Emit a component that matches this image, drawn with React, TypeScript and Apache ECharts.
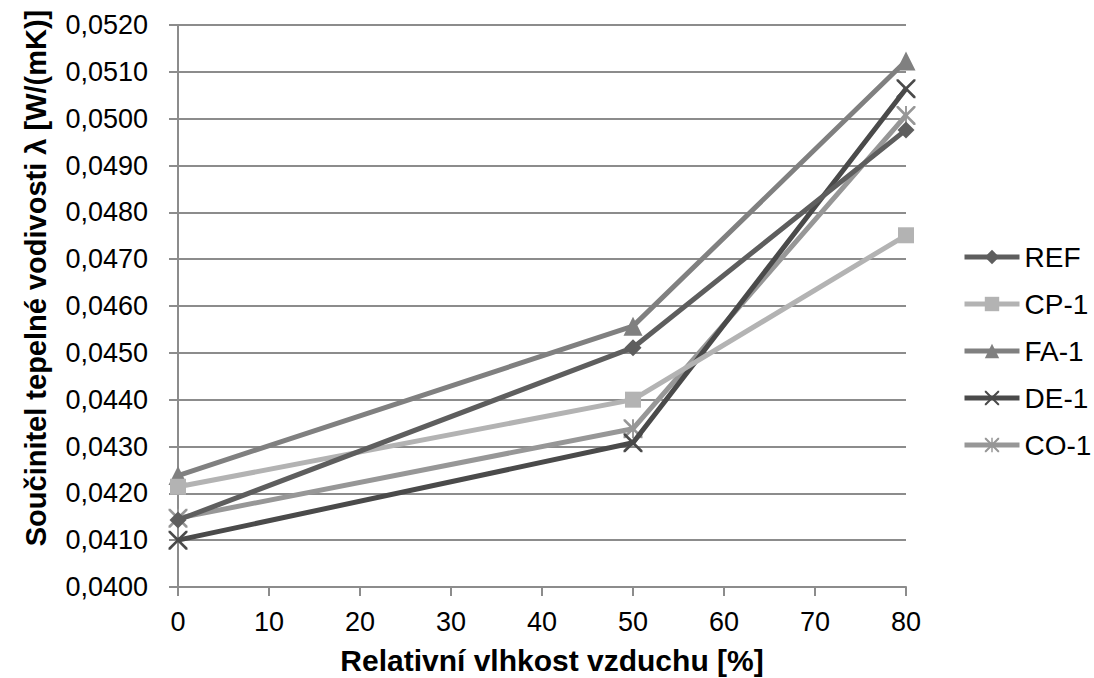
import React, { useEffect, useRef } from 'react';
import * as echarts from 'echarts';

const xValues = [0, 50, 80];
const seriesNames = ['REF', 'CP-1', 'FA-1', 'DE-1', 'CO-1'];
const refValues = [0.04143, 0.04511, 0.04976];
const cp1Values = [0.04214, 0.044, 0.04751];
const fa1Values = [0.04238, 0.04557, 0.05123];
const de1Values = [0.041, 0.04308, 0.05064];
const co1Values = [0.04147, 0.04338, 0.05007];
const xAxisTitle = 'Relativní vlhkost vzduchu [%]';
const yAxisTitle = 'Součinitel tepelné vodivosti λ [W/(mK)]';

const X_PATH =
  'path://M0,0 L2,0 L10,8 L18,0 L20,0 L20,2 L12,10 L20,18 L20,20 L18,20 L10,12 L2,20 L0,20 L0,18 L8,10 L0,2 Z';
const STAR_PATH =
  'path://M0,0 L2,0 L10,8 L18,0 L20,0 L20,2 L12,10 L20,18 L20,20 L18,20 L10,12 L2,20 L0,20 L0,18 L8,10 L0,2 Z M9,0 L11,0 L11,20 L9,20 Z';

const FONT = '"Liberation Sans", Arial, sans-serif';

export default function App() {
  const ref = useRef<HTMLDivElement>(null);
  useEffect(() => {
    document.body.style.margin = '0';
    if (!ref.current) return;
    const chart = echarts.init(ref.current, undefined, { renderer: 'svg' });
    const valuesList = [refValues, cp1Values, fa1Values, de1Values, co1Values];
    const colors = ['#5e5e5e', '#b3b3b3', '#808080', '#4a4a4a', '#979797'];
    const symbols = ['diamond', 'rect', 'triangle', X_PATH, STAR_PATH];
    const symbolSizes = [17, 16, 19, 19, 19];
    const series = seriesNames.map((name, i) => ({
      name,
      type: 'line',
      data: xValues.map((x, j) => [x, valuesList[i][j]]),
      symbol: symbols[i],
      symbolSize: symbolSizes[i],
      showAllSymbol: true,
      lineStyle: { color: colors[i], width: 5 },
      itemStyle: { color: colors[i] },
      emphasis: { disabled: true },
      z: 10 - i,
    }));
    chart.setOption({
      animation: false,
      textStyle: { fontFamily: FONT },
      grid: { left: 178, top: 25, right: 188, bottom: 91, containLabel: false },
      xAxis: {
        type: 'value',
        min: 0,
        max: 80,
        interval: 10,
        axisLine: { show: true, lineStyle: { color: '#8c8c8c', width: 2 } },
        axisTick: { show: true, length: 9, lineStyle: { color: '#8c8c8c', width: 2 } },
        splitLine: { show: false },
        axisLabel: { color: '#000', fontSize: 27, margin: 21, fontFamily: FONT },
      },
      yAxis: {
        type: 'value',
        min: 0.04,
        max: 0.052,
        interval: 0.001,
        axisLine: { show: true, lineStyle: { color: '#8c8c8c', width: 2 } },
        axisTick: { show: true, length: 9, lineStyle: { color: '#8c8c8c', width: 2 } },
        splitLine: { show: true, lineStyle: { color: '#8c8c8c', width: 2 } },
        axisLabel: {
          color: '#000',
          fontSize: 27,
          margin: 30,
          fontFamily: FONT,
          formatter: (v: number) => v.toFixed(4).replace('.', ','),
        },
      },
      legend: {
        orient: 'vertical',
        left: 962,
        top: 243,
        padding: 0,
        itemGap: 19,
        itemWidth: 55,
        itemHeight: 18,
        lineStyle: { width: 5 },
        textStyle: { color: '#000', fontSize: 28, fontFamily: FONT },
        data: seriesNames,
      },
      graphic: [
        {
          type: 'text',
          x: 36,
          y: 278,
          rotation: Math.PI / 2,
          style: {
            text: yAxisTitle,
            font: 'bold 29px ' + FONT,
            fill: '#000',
            textAlign: 'center',
            textVerticalAlign: 'middle',
          },
        },
        {
          type: 'text',
          x: 552,
          y: 660,
          style: {
            text: xAxisTitle,
            font: 'bold 30px ' + FONT,
            fill: '#000',
            textAlign: 'center',
            textVerticalAlign: 'middle',
          },
        },
      ],
      series,
    });
    return () => chart.dispose();
  }, []);
  return <div ref={ref} style={{ width: 1094, height: 678 }} />;
}
